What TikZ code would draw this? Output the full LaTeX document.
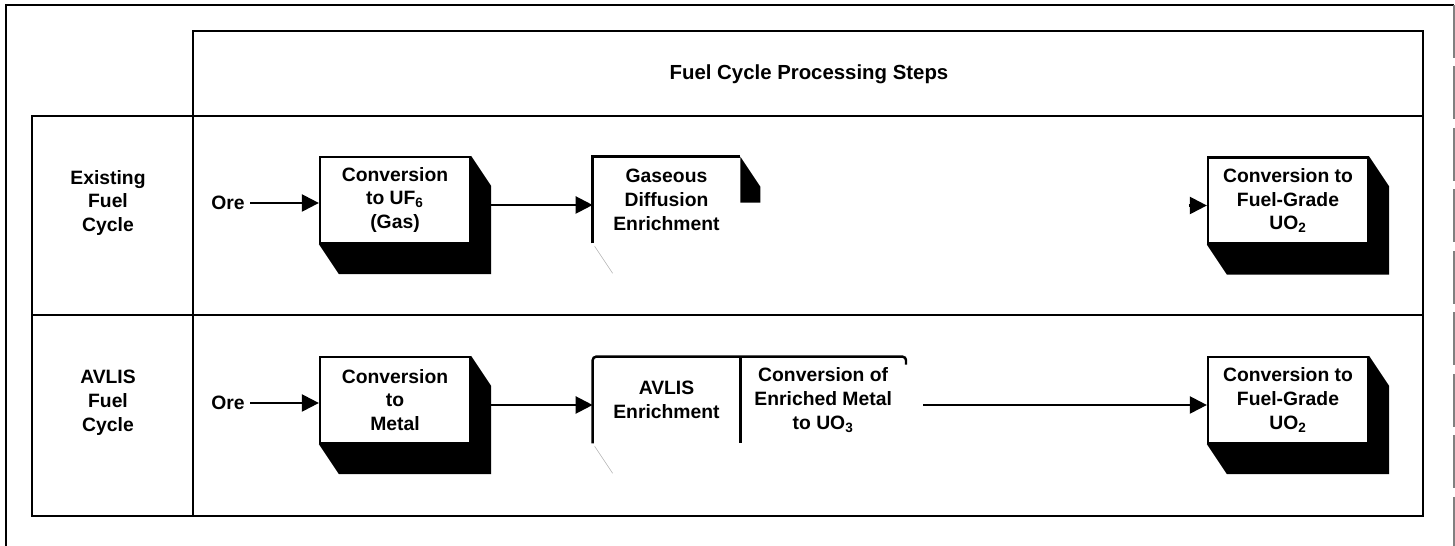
\documentclass[tikz,border=0pt]{standalone}
\usepackage{fontspec}
\setmainfont{Liberation Sans}
\usetikzlibrary{arrows.meta,positioning}
\pgfdeclarelayer{background}
\pgfsetlayers{background,main}

\tikzset{
  txt/.style={align=center,font=\fontsize{11}{13.6}\selectfont\bfseries,inner sep=0pt},
  stepbox/.style={txt,draw,fill=white,line width=1.3pt,minimum width=3cm,minimum height=1.72cm},
  openbox/.style={txt,minimum height=1.72cm},
  flow/.style={line width=1.3pt,-{Triangle[length=0.34cm,width=0.34cm]}},
  frame/.style={line width=1.4pt},
  faint/.style={gray!60,line width=0.3pt}
}

\begin{document}
\begin{tikzpicture}[x=0.02cm,y=-0.02cm]
\useasboundingbox (0,0) rectangle (1455,546);

%frames
\draw [frame] (6,546) -- (6,5) -- (1454,5) ;
\draw [line width=1pt,gray,dash pattern=on 30pt off 5pt] (1454,5) -- (1454,546) ;
\draw [frame] (193,31) rectangle (1423,116) ;
\draw [frame] (32,116) rectangle (1423,516) ;
\draw [frame] (32,315) -- (1423,315) ;
\draw [frame] (193,116) -- (193,516) ;

%title and row labels
\node [txt,font=\fontsize{11.6}{14}\selectfont\bfseries] (title) at (809,74) {Fuel Cycle Processing Steps} ;
\node [txt] (rowA) at (108,203) {Existing\\Fuel\\Cycle} ;
\node [txt] (rowB) at (108,403) {AVLIS\\Fuel\\Cycle} ;

%existing fuel cycle
\node [txt] (oreA) at (228,203) {Ore} ;
\node [stepbox] (uf) at (395,200) {Conversion\\to UF\textsubscript{6}\\(Gas)} ;
\node [openbox,minimum width=2.94cm] (gd) at (666.5,200) {Gaseous\\Diffusion\\Enrichment} ;
\node [stepbox,minimum width=3.2cm] (fgA) at (1288,200.5) {Conversion to\\Fuel-Grade\\UO\textsubscript{2}} ;

%avlis fuel cycle
\node [txt] (oreB) at (228,403) {Ore} ;
\node [stepbox] (metal) at (395,400) {Conversion\\to\\Metal} ;
\node [openbox,minimum width=2.94cm] (avlis) at (666.5,400) {AVLIS\\Enrichment} ;
\node [openbox,minimum width=3.3cm,right=0pt of avlis] (ueo) {Conversion of\\Enriched Metal\\to UO\textsubscript{3}} ;
\node [stepbox,minimum width=3.2cm] (fgB) at (1288,400) {Conversion to\\Fuel-Grade\\UO\textsubscript{2}} ;

%box shadows
\foreach \b in {uf,fgA,metal,fgB}
  \fill (\b.north east) -- ([shift={(20,30)}]\b.north east) -- ([shift={(20,30)}]\b.south east)
    -- ([shift={(20,30)}]\b.south west) -- (\b.south west) -- (\b.south east) -- cycle ;

%open boxes
\draw [frame] (gd.south west) -- (gd.north west) -- (gd.north east) ;
\fill (gd.north east) -- ([shift={(20,30)}]gd.north east) -- ([shift={(20,46)}]gd.north east)
  -- ([shift={(0,46)}]gd.north east) -- cycle ;
\draw [faint] ([shift={(2,3)}]gd.south west) -- ([shift={(20,30)}]gd.south west) ;

\draw [frame,rounded corners=2pt] (avlis.south west) -- (avlis.north west) -- (ueo.north east) -- ++(0,8) ;
\draw [frame] (avlis.north east) -- (avlis.south east) ;
\draw [faint] ([shift={(2,3)}]avlis.south west) -- ([shift={(20,30)}]avlis.south west) ;

%flow arrows
\draw [flow,shorten <=0.1cm] (oreA) -- (oreA -| uf.west) ;
\draw [flow] ([shift={(20,5)}]uf.east) -- ([shift={(0,5)}]gd.west) ;
\draw [flow] ([shift={(-18,5)}]fgA.west) -- ([shift={(0,5)}]fgA.west) ;

\draw [flow,shorten <=0.1cm] (oreB) -- (oreB -| metal.west) ;
\draw [flow] ([shift={(20,5)}]metal.east) -- ([shift={(0,5)}]avlis.west) ;
\draw [flow] ([shift={(17,5)}]ueo.east) -- ([shift={(0,5)}]fgB.west) ;

\end{tikzpicture}
\end{document}
